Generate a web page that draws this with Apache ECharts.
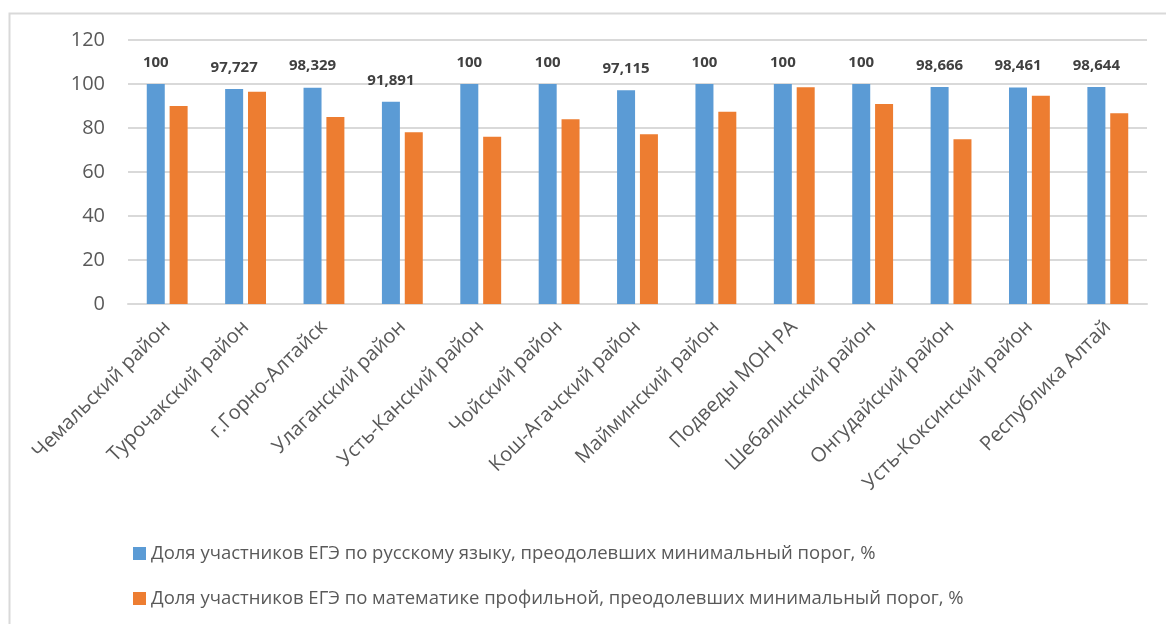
<!DOCTYPE html>
<html>
<head>
<meta charset="utf-8">
<script src="https://cdn.jsdelivr.net/npm/echarts@6/dist/echarts.min.js"></script>
<style>
html,body{margin:0;padding:0;background:#fff;}
#c{width:1166px;height:624px;}
</style>
</head>
<body>
<div id="c"></div>
<script>
const categories = ["Чемальский район","Турочакский район","г.Горно-Алтайск","Улаганский район","Усть-Канский район","Чойский район","Кош-Агачский район","Майминский район","Подведы МОН РА","Шебалинский район","Онгудайский район","Усть-Коксинский район","Республика Алтай"];
const seriesNames = ["Доля участников ЕГЭ по русскому языку, преодолевших минимальный порог, %","Доля участников ЕГЭ по математике профильной, преодолевших минимальный порог, %"];
const russianValues = [100, 97.727, 98.329, 91.891, 100, 100, 97.115, 100, 100, 100, 98.666, 98.461, 98.644];
const mathValues = [90, 96.5, 85, 78.1, 76, 84, 77.2, 87.4, 98.5, 90.9, 74.9, 94.7, 86.7];
const yTicks = {min: 0, max: 120, interval: 20};

const FONT = "'Open Sans', sans-serif";
const chart = echarts.init(document.getElementById('c'), null, {renderer: 'canvas'});
chart.setOption({
  animation: false,
  backgroundColor: '#ffffff',
  graphic: [{
    type: 'rect', left: 7, top: 11,
    shape: {width: 1180, height: 640},
    style: {fill: 'none', stroke: '#d9d9d9', lineWidth: 2}
  }],
  grid: {left: 128, right: 19, top: 40, bottom: 320, containLabel: false},
  legend: {
    orient: 'vertical', left: 128, top: 539,
    itemWidth: 13, itemHeight: 13, itemGap: 26,
    icon: 'rect',
    textStyle: {fontFamily: FONT, fontSize: 18.5, color: '#595959'},
    data: seriesNames
  },
  xAxis: {
    type: 'category', data: categories,
    axisLine: {show: true, lineStyle: {color: '#d9d9d9', width: 2}},
    axisTick: {show: false},
    axisLabel: {rotate: 45, interval: 0, margin: 20, fontFamily: FONT, fontSize: 20, color: '#595959'}
  },
  yAxis: {
    type: 'value', min: yTicks.min, max: yTicks.max, interval: yTicks.interval,
    axisLine: {show: false}, axisTick: {show: false},
    splitLine: {lineStyle: {color: '#d9d9d9', width: 2}},
    axisLabel: {margin: 23, fontFamily: FONT, fontSize: 20, color: '#595959'}
  },
  series: [{
    name: seriesNames[0], type: 'bar', data: russianValues,
    barWidth: 18, barGap: '27%',
    itemStyle: {color: '#5b9bd5'},
    label: {
      show: true, position: 'top', distance: 14,
      fontFamily: FONT, fontSize: 15, fontWeight: 'bold', color: '#404040',
      formatter: p => String(p.value).replace('.', ',')
    }
  }, {
    name: seriesNames[1], type: 'bar', data: mathValues,
    barWidth: 18, barGap: '27%',
    itemStyle: {color: '#ed7d31'}
  }]
});
</script>
</body>
</html>
